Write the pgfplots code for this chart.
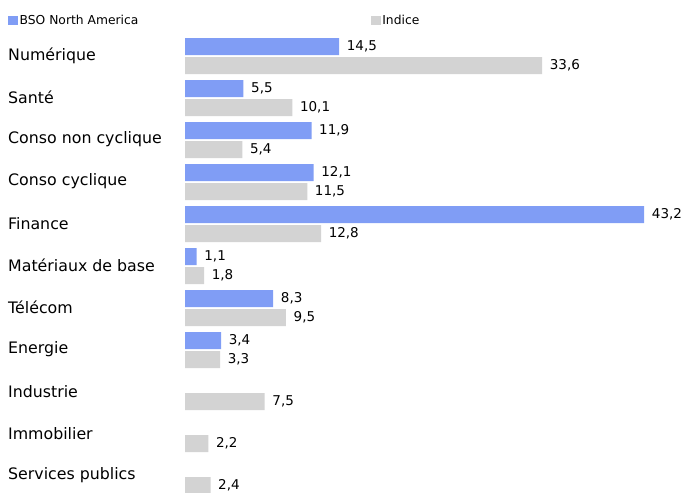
\documentclass[border=0pt]{standalone}
\usepackage{fontspec}
\setmainfont{DejaVu Sans}
\usepackage{pgfplots}
\pgfplotsset{compat=1.18}
\definecolor{bso}{RGB}{128,157,245}
\definecolor{idx}{RGB}{211,211,211}
\begin{document}
\begin{tikzpicture}
\useasboundingbox (0,0) rectangle (685bp,-493bp);
\begin{axis}[
 at={(185bp,-488.6bp)}, anchor=south west,
 scale only axis, width=489bp, height=453.6bp,
 xmin=0, xmax=46, ymin=-0.3, ymax=10.5,
 clip=false,
 axis line style={draw=none},
 major tick length=0pt,
 xtick=\empty,
 ytick={0,...,10},
 yticklabels={Services publics,Immobilier,Industrie,Energie,Télécom,Matériaux de base,Finance,Conso cyclique,Conso non cyclique,Santé,Numérique},
 yticklabel style={anchor=west, inner sep=0pt, xshift=-177bp, yshift=0.5bp, font=\fontsize{15.8bp}{18bp}\selectfont},
 xbar, bar width=17bp,
 point meta=x,
 /pgf/number format/assume math mode=true,
 nodes near coords={\pgfmathprintnumber[fixed,fixed zerofill,precision=1,use comma]{\pgfplotspointmeta}},
 nodes near coords style={anchor=west, inner sep=0pt, xshift=7.5bp, font=\fontsize{13.5bp}{15bp}\selectfont, text=black},
 legend columns=2,
 legend style={at={(-0.362,1.031)}, anchor=west, draw=none, fill=none, inner sep=0pt,
   font=\fontsize{12.3bp}{14bp}\selectfont,
   nodes={inner sep=1.5bp},
   /tikz/every even column/.append style={column sep=231bp}},
 legend image code/.code={\fill[#1] (0bp,-4.5bp) rectangle (10bp,4.5bp);},
]
\addplot[fill=bso, draw=none, bar shift=9.5bp] coordinates {
 (14.5,10) (5.5,9) (11.9,8) (12.1,7) (43.2,6) (1.1,5) (8.3,4) (3.4,3)
};
\addlegendentry{BSO North America}
\addplot[fill=idx, draw=none, bar shift=-9.5bp] coordinates {
 (33.6,10) (10.1,9) (5.4,8) (11.5,7) (12.8,6) (1.8,5) (9.5,4) (3.3,3) (7.5,2) (2.2,1) (2.4,0)
};
\addlegendentry{Indice}
\end{axis}
\end{tikzpicture}
\end{document}
